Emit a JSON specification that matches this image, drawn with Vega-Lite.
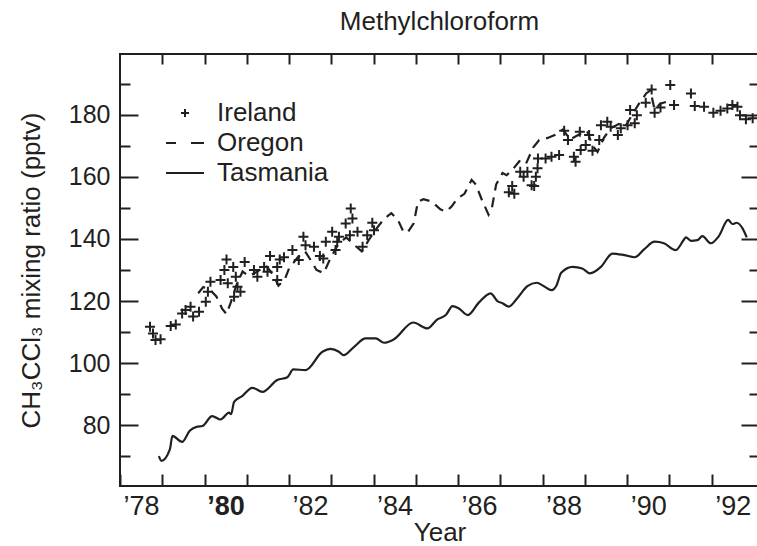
{
  "$schema": "https://vega.github.io/schema/vega-lite/v6.json",
  "width": 639,
  "height": 432,
  "autosize": "none",
  "padding": {"left": 120, "top": 54, "right": 0, "bottom": 60},
  "background": "white",
  "config": {
    "view": {"stroke": "#231f20", "strokeWidth": 2},
    "font": "Liberation Sans",
    "axis": {"grid": false, "domain": false, "tickColor": "#231f20", "tickWidth": 2, "labelColor": "#231f20", "titleColor": "#231f20", "labelFont": "Liberation Sans", "titleFont": "Liberation Sans", "titleFontWeight": "normal", "labelFlush": false, "labelOverlap": false, "labelBound": false}
  },
  "title": {"text": "Methylchloroform", "fontSize": 26, "fontWeight": "normal", "font": "Liberation Sans", "color": "#231f20", "offset": 18},
  "datasets": {
    "tas": [
      {"site":"Tasmania","year":1978.92,"ppt":70.1},{"site":"Tasmania","year":1978.98,"ppt":68.6},{"site":"Tasmania","year":1979.18,"ppt":72.3},{"site":"Tasmania","year":1979.24,"ppt":76.6},{"site":"Tasmania","year":1979.47,"ppt":74.7},{"site":"Tasmania","year":1979.65,"ppt":78.3},{"site":"Tasmania","year":1979.83,"ppt":79.6},{"site":"Tasmania","year":1979.95,"ppt":79.8},{"site":"Tasmania","year":1980.18,"ppt":83.0},{"site":"Tasmania","year":1980.38,"ppt":81.9},{"site":"Tasmania","year":1980.58,"ppt":84.1},{"site":"Tasmania","year":1980.63,"ppt":83.6},{"site":"Tasmania","year":1980.70,"ppt":87.6},{"site":"Tasmania","year":1980.89,"ppt":89.4},{"site":"Tasmania","year":1981.13,"ppt":92.1},{"site":"Tasmania","year":1981.37,"ppt":90.8},{"site":"Tasmania","year":1981.72,"ppt":94.6},{"site":"Tasmania","year":1981.96,"ppt":95.5},{"site":"Tasmania","year":1982.10,"ppt":98.0},{"site":"Tasmania","year":1982.39,"ppt":97.8},{"site":"Tasmania","year":1982.79,"ppt":103.7},{"site":"Tasmania","year":1982.98,"ppt":104.6},{"site":"Tasmania","year":1983.18,"ppt":103.7},{"site":"Tasmania","year":1983.29,"ppt":102.6},{"site":"Tasmania","year":1983.54,"ppt":105.3},{"site":"Tasmania","year":1983.81,"ppt":108.0},{"site":"Tasmania","year":1984.05,"ppt":108.0},{"site":"Tasmania","year":1984.25,"ppt":106.6},{"site":"Tasmania","year":1984.48,"ppt":107.7},{"site":"Tasmania","year":1984.94,"ppt":113.1},{"site":"Tasmania","year":1985.27,"ppt":111.2},{"site":"Tasmania","year":1985.51,"ppt":114.1},{"site":"Tasmania","year":1985.71,"ppt":115.5},{"site":"Tasmania","year":1985.87,"ppt":118.4},{"site":"Tasmania","year":1986.02,"ppt":117.6},{"site":"Tasmania","year":1986.23,"ppt":115.5},{"site":"Tasmania","year":1986.49,"ppt":119.5},{"site":"Tasmania","year":1986.77,"ppt":122.5},{"site":"Tasmania","year":1986.93,"ppt":120.0},{"site":"Tasmania","year":1987.05,"ppt":119.3},{"site":"Tasmania","year":1987.20,"ppt":118.2},{"site":"Tasmania","year":1987.40,"ppt":120.9},{"site":"Tasmania","year":1987.64,"ppt":124.8},{"site":"Tasmania","year":1987.86,"ppt":125.9},{"site":"Tasmania","year":1988.03,"ppt":124.8},{"site":"Tasmania","year":1988.21,"ppt":123.5},{"site":"Tasmania","year":1988.33,"ppt":125.1},{"site":"Tasmania","year":1988.44,"ppt":129.1},{"site":"Tasmania","year":1988.71,"ppt":131.0},{"site":"Tasmania","year":1988.94,"ppt":130.5},{"site":"Tasmania","year":1989.12,"ppt":128.9},{"site":"Tasmania","year":1989.38,"ppt":131.0},{"site":"Tasmania","year":1989.65,"ppt":135.3},{"site":"Tasmania","year":1989.93,"ppt":134.8},{"site":"Tasmania","year":1990.18,"ppt":134.1},{"site":"Tasmania","year":1990.40,"ppt":136.6},{"site":"Tasmania","year":1990.65,"ppt":139.1},{"site":"Tasmania","year":1990.87,"ppt":138.6},{"site":"Tasmania","year":1991.15,"ppt":136.4},{"site":"Tasmania","year":1991.35,"ppt":139.9},{"site":"Tasmania","year":1991.39,"ppt":140.5},{"site":"Tasmania","year":1991.51,"ppt":139.4},{"site":"Tasmania","year":1991.66,"ppt":139.6},{"site":"Tasmania","year":1991.78,"ppt":140.9},{"site":"Tasmania","year":1991.98,"ppt":138.6},{"site":"Tasmania","year":1992.17,"ppt":140.9},{"site":"Tasmania","year":1992.39,"ppt":146.1},{"site":"Tasmania","year":1992.49,"ppt":144.8},{"site":"Tasmania","year":1992.59,"ppt":145.2},{"site":"Tasmania","year":1992.73,"ppt":143.4},{"site":"Tasmania","year":1992.83,"ppt":140.5}
    ],
    "ore": [
      {"site":"Oregon","year":1979.85,"ppt":122.5},{"site":"Oregon","year":1979.97,"ppt":124.5},{"site":"Oregon","year":1980.12,"ppt":123.8},{"site":"Oregon","year":1980.28,"ppt":121.5},{"site":"Oregon","year":1980.42,"ppt":117.5},{"site":"Oregon","year":1980.52,"ppt":115.8},{"site":"Oregon","year":1980.62,"ppt":119.5},{"site":"Oregon","year":1980.75,"ppt":125},{"site":"Oregon","year":1980.9,"ppt":129.5},{"site":"Oregon","year":1981.05,"ppt":128},{"site":"Oregon","year":1981.25,"ppt":129.5},{"site":"Oregon","year":1981.45,"ppt":131.5},{"site":"Oregon","year":1981.62,"ppt":128.5},{"site":"Oregon","year":1981.75,"ppt":125},{"site":"Oregon","year":1981.9,"ppt":127},{"site":"Oregon","year":1982.0,"ppt":130.5},{"site":"Oregon","year":1982.2,"ppt":134},{"site":"Oregon","year":1982.38,"ppt":136},{"site":"Oregon","year":1982.52,"ppt":133},{"site":"Oregon","year":1982.65,"ppt":130},{"site":"Oregon","year":1982.82,"ppt":129},{"site":"Oregon","year":1982.97,"ppt":133.5},{"site":"Oregon","year":1983.15,"ppt":138},{"site":"Oregon","year":1983.35,"ppt":140.5},{"site":"Oregon","year":1983.55,"ppt":138},{"site":"Oregon","year":1983.72,"ppt":136},{"site":"Oregon","year":1983.88,"ppt":139.5},{"site":"Oregon","year":1984.05,"ppt":143},{"site":"Oregon","year":1984.25,"ppt":146.5},{"site":"Oregon","year":1984.42,"ppt":148.3},{"site":"Oregon","year":1984.58,"ppt":146},{"site":"Oregon","year":1984.7,"ppt":142.5},{"site":"Oregon","year":1984.8,"ppt":142},{"site":"Oregon","year":1984.95,"ppt":145},{"site":"Oregon","year":1985.05,"ppt":152},{"site":"Oregon","year":1985.18,"ppt":152.8},{"site":"Oregon","year":1985.38,"ppt":152},{"site":"Oregon","year":1985.58,"ppt":149.5},{"site":"Oregon","year":1985.72,"ppt":148.8},{"site":"Oregon","year":1985.85,"ppt":150.5},{"site":"Oregon","year":1985.98,"ppt":153},{"site":"Oregon","year":1986.15,"ppt":154.5},{"site":"Oregon","year":1986.32,"ppt":159},{"site":"Oregon","year":1986.42,"ppt":157.5},{"site":"Oregon","year":1986.55,"ppt":153},{"site":"Oregon","year":1986.72,"ppt":147.8},{"site":"Oregon","year":1986.8,"ppt":150},{"site":"Oregon","year":1986.9,"ppt":157.5},{"site":"Oregon","year":1987.05,"ppt":161.2},{"site":"Oregon","year":1987.15,"ppt":160.5},{"site":"Oregon","year":1987.3,"ppt":162.5},{"site":"Oregon","year":1987.45,"ppt":165},{"site":"Oregon","year":1987.6,"ppt":164},{"site":"Oregon","year":1987.78,"ppt":169.5},{"site":"Oregon","year":1987.92,"ppt":171.8},{"site":"Oregon","year":1988.12,"ppt":172.5},{"site":"Oregon","year":1988.3,"ppt":173.5},{"site":"Oregon","year":1988.48,"ppt":175.2},{"site":"Oregon","year":1988.65,"ppt":172},{"site":"Oregon","year":1988.85,"ppt":173.5},{"site":"Oregon","year":1989.05,"ppt":174.8},{"site":"Oregon","year":1989.18,"ppt":170},{"site":"Oregon","year":1989.3,"ppt":168},{"site":"Oregon","year":1989.45,"ppt":172.5},{"site":"Oregon","year":1989.6,"ppt":175.5},{"site":"Oregon","year":1989.8,"ppt":177},{"site":"Oregon","year":1989.95,"ppt":176},{"site":"Oregon","year":1990.1,"ppt":179.5},{"site":"Oregon","year":1990.28,"ppt":183.5},{"site":"Oregon","year":1990.45,"ppt":186.8},{"site":"Oregon","year":1990.55,"ppt":187.8},{"site":"Oregon","year":1990.65,"ppt":181.5},{"site":"Oregon","year":1990.78,"ppt":183.5},{"site":"Oregon","year":1990.95,"ppt":184.2},{"site":"Oregon","year":1991.05,"ppt":183.5}
    ],
    "ire": [
      {"site":"Ireland","year":1978.71,"ppt":111.7},{"site":"Ireland","year":1978.78,"ppt":109.6},{"site":"Ireland","year":1978.84,"ppt":107.5},{"site":"Ireland","year":1978.96,"ppt":107.7},{"site":"Ireland","year":1979.20,"ppt":112.0},{"site":"Ireland","year":1979.32,"ppt":112.5},{"site":"Ireland","year":1979.47,"ppt":116.0},{"site":"Ireland","year":1979.55,"ppt":117.1},{"site":"Ireland","year":1979.67,"ppt":118.2},{"site":"Ireland","year":1979.73,"ppt":115.0},{"site":"Ireland","year":1979.87,"ppt":116.6},{"site":"Ireland","year":1980.03,"ppt":119.8},{"site":"Ireland","year":1980.08,"ppt":123.0},{"site":"Ireland","year":1980.14,"ppt":126.2},{"site":"Ireland","year":1980.38,"ppt":126.8},{"site":"Ireland","year":1980.47,"ppt":130.0},{"site":"Ireland","year":1980.52,"ppt":133.4},{"site":"Ireland","year":1980.55,"ppt":125.7},{"site":"Ireland","year":1980.68,"ppt":131.0},{"site":"Ireland","year":1980.74,"ppt":127.8},{"site":"Ireland","year":1980.78,"ppt":124.6},{"site":"Ireland","year":1980.85,"ppt":123.0},{"site":"Ireland","year":1980.70,"ppt":121.4},{"site":"Ireland","year":1980.95,"ppt":132.6},{"site":"Ireland","year":1981.17,"ppt":130.0},{"site":"Ireland","year":1981.25,"ppt":127.8},{"site":"Ireland","year":1981.41,"ppt":131.0},{"site":"Ireland","year":1981.49,"ppt":129.4},{"site":"Ireland","year":1981.55,"ppt":134.5},{"site":"Ireland","year":1981.72,"ppt":131.0},{"site":"Ireland","year":1981.78,"ppt":133.4},{"site":"Ireland","year":1981.72,"ppt":126.8},{"site":"Ireland","year":1981.88,"ppt":134.1},{"site":"Ireland","year":1982.08,"ppt":136.4},{"site":"Ireland","year":1982.23,"ppt":133.2},{"site":"Ireland","year":1982.34,"ppt":140.7},{"site":"Ireland","year":1982.39,"ppt":138.0},{"site":"Ireland","year":1982.59,"ppt":137.5},{"site":"Ireland","year":1982.73,"ppt":134.5},{"site":"Ireland","year":1982.81,"ppt":133.7},{"site":"Ireland","year":1982.87,"ppt":139.1},{"site":"Ireland","year":1983.02,"ppt":142.3},{"site":"Ireland","year":1983.10,"ppt":136.4},{"site":"Ireland","year":1983.14,"ppt":139.1},{"site":"Ireland","year":1983.18,"ppt":140.7},{"site":"Ireland","year":1983.34,"ppt":145.0},{"site":"Ireland","year":1983.46,"ppt":149.8},{"site":"Ireland","year":1983.50,"ppt":146.6},{"site":"Ireland","year":1983.44,"ppt":141.2},{"site":"Ireland","year":1983.62,"ppt":142.3},{"site":"Ireland","year":1983.74,"ppt":137.5},{"site":"Ireland","year":1983.85,"ppt":141.2},{"site":"Ireland","year":1983.97,"ppt":145.2},{"site":"Ireland","year":1984.01,"ppt":142.8},
      {"site":"Ireland","year":1987.20,"ppt":155.0},{"site":"Ireland","year":1987.28,"ppt":157.0},{"site":"Ireland","year":1987.33,"ppt":154.5},{"site":"Ireland","year":1987.47,"ppt":161.6},{"site":"Ireland","year":1987.55,"ppt":160.0},{"site":"Ireland","year":1987.64,"ppt":161.6},{"site":"Ireland","year":1987.74,"ppt":157.3},{"site":"Ireland","year":1987.80,"ppt":157.0},{"site":"Ireland","year":1987.84,"ppt":160.0},{"site":"Ireland","year":1987.88,"ppt":162.7},{"site":"Ireland","year":1987.89,"ppt":165.9},{"site":"Ireland","year":1988.07,"ppt":165.9},{"site":"Ireland","year":1988.21,"ppt":166.4},{"site":"Ireland","year":1988.39,"ppt":167.0},{"site":"Ireland","year":1988.51,"ppt":174.8},{"site":"Ireland","year":1988.60,"ppt":171.8},{"site":"Ireland","year":1988.74,"ppt":166.4},{"site":"Ireland","year":1988.78,"ppt":164.8},{"site":"Ireland","year":1988.88,"ppt":174.5},{"site":"Ireland","year":1988.90,"ppt":168.6},{"site":"Ireland","year":1989.02,"ppt":170.2},{"site":"Ireland","year":1989.10,"ppt":173.4},{"site":"Ireland","year":1989.18,"ppt":168.4},{"site":"Ireland","year":1989.34,"ppt":171.8},{"site":"Ireland","year":1989.38,"ppt":176.6},{"site":"Ireland","year":1989.53,"ppt":177.7},{"site":"Ireland","year":1989.61,"ppt":176.1},{"site":"Ireland","year":1989.78,"ppt":173.4},{"site":"Ireland","year":1989.85,"ppt":175.6},{"site":"Ireland","year":1990.01,"ppt":176.6},{"site":"Ireland","year":1990.07,"ppt":181.5},{"site":"Ireland","year":1990.18,"ppt":177.2},{"site":"Ireland","year":1990.23,"ppt":179.8},{"site":"Ireland","year":1990.44,"ppt":183.8},{"site":"Ireland","year":1990.58,"ppt":188.1},{"site":"Ireland","year":1990.65,"ppt":180.6},{"site":"Ireland","year":1990.79,"ppt":182.3},{"site":"Ireland","year":1991.02,"ppt":189.5},{"site":"Ireland","year":1991.11,"ppt":183.1},{"site":"Ireland","year":1991.51,"ppt":186.8},{"site":"Ireland","year":1991.60,"ppt":182.8},{"site":"Ireland","year":1991.82,"ppt":182.5},{"site":"Ireland","year":1992.04,"ppt":180.6},{"site":"Ireland","year":1992.21,"ppt":181.2},{"site":"Ireland","year":1992.37,"ppt":182.0},{"site":"Ireland","year":1992.49,"ppt":183.1},{"site":"Ireland","year":1992.61,"ppt":182.5},{"site":"Ireland","year":1992.67,"ppt":179.8},{"site":"Ireland","year":1992.81,"ppt":178.5},{"site":"Ireland","year":1992.97,"ppt":178.8}
    ]
  },
  "layer": [
    {
      "data": {"name": "tas"},
      "mark": {"type": "line", "strokeWidth": 2.2, "interpolate": "monotone", "color": "#231f20"},
      "encoding": {
        "x": {"field": "year", "type": "quantitative", "scale": {"domain": [1978, 1993.12], "nice": false, "zero": false},
          "axis": {"orient": "bottom", "values": [1978,1979,1980,1981,1982,1983,1984,1985,1986,1987,1988,1989,1990,1991,1992],
            "tickSize": -12, "labelPadding": 19, "labelOffset": 21, "labelFontSize": 27,
            "labelExpr": "datum.value % 2 == 0 ? '\u2019' + format(datum.value % 100, '02d') : ''",
            "labelFontWeight": {"condition": {"test": "datum.value == 1980", "value": "bold"}, "value": "normal"},
            "title": "Year", "titleFontSize": 26, "titlePadding": 0}},
        "y": {"field": "ppt", "type": "quantitative", "scale": {"domain": [60.5, 199.5], "nice": false, "zero": false},
          "axis": {"orient": "left", "values": [70,80,90,100,110,120,130,140,150,160,170,180,190],
            "tickSize": {"condition": {"test": "datum.value % 20 == 0", "value": -18}, "value": -10},
            "labelPadding": 28, "labelFontSize": 25,
            "labelExpr": "datum.value % 20 == 0 ? datum.label : ''",
            "title": "CH\u2083CCl\u2083 mixing ratio (pptv)", "titleFontSize": 26, "titlePadding": 24}}
      }
    },
    {
      "data": {"name": "ore"},
      "mark": {"type": "line", "strokeWidth": 2.2, "strokeDash": [10, 7], "color": "#231f20"},
      "encoding": {
        "x": {"field": "year", "type": "quantitative",
          "axis": {"orient": "top", "values": [1979,1980,1981,1982,1983,1984,1985,1986,1987,1988,1989,1990,1991,1992], "tickSize": -10, "labels": false, "title": null}},
        "y": {"field": "ppt", "type": "quantitative",
          "axis": {"orient": "right", "values": [70,80,90,100,110,120,130,140,150,160,170,180,190],
            "tickSize": {"condition": {"test": "datum.value % 20 == 0", "value": -18}, "value": -10}, "labels": false, "title": null}}
      }
    },
    {
      "data": {"name": "ire"},
      "mark": {"type": "point", "size": 100, "strokeWidth": 2, "filled": false, "opacity": 1, "color": "#231f20"},
      "encoding": {
        "x": {"field": "year", "type": "quantitative", "axis": null},
        "y": {"field": "ppt", "type": "quantitative", "axis": null},
        "shape": {"field": "site", "type": "nominal",
          "scale": {"domain": ["Ireland", "Oregon", "Tasmania"], "range": ["M-1,0H1M0,-1V1", "M-4.75,0H-2.25M1.5,0H4.75", "M-4.75,0H4.75"]},
          "legend": {"orient": "none", "legendX": 52, "legendY": 46, "title": null, "labelFontSize": 26, "labelFont": "Liberation Sans", "labelColor": "#231f20",
            "symbolSize": 64, "symbolStrokeWidth": 2, "symbolStrokeColor": "#231f20", "symbolFillColor": "transparent", "symbolOpacity": 1, "rowPadding": 4, "labelOffset": 19}}
      }
    }
  ],
  "resolve": {"axis": {"x": "independent", "y": "independent"}}
}
